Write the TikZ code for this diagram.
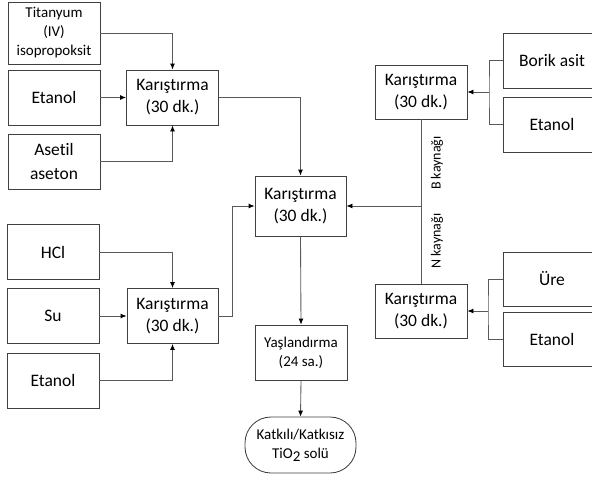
\documentclass[tikz,border=0pt]{standalone}
\usepackage{fontspec}
\setmainfont{Carlito}[Ligatures=NoCommon]
\usetikzlibrary{arrows,arrows.meta}
\tikzset{
  boxnode/.style = {align=center, inner sep=0pt, text centered, draw=black!75, line width=0.3mm},
  box_m/.style = {boxnode, minimum width=92pt, minimum height=55pt, font=\fontsize{17.5}{22}\selectfont},
  box_s/.style = {boxnode, minimum width=92pt, minimum height=55pt, font=\fontsize{15}{19}\selectfont},
  box_r/.style = {box_m, minimum width=98pt},
  sol_n/.style = {box_s, minimum width=111pt, minimum height=56pt, rounded corners=26pt},
  lbl/.style = {rotate=90, inner sep=0pt, font=\fontsize{14}{16}\selectfont},
  con/.style = {draw=black!65, line width=0.3mm},
  arr/.style = {con, -{Latex[black, length=6pt, width=5pt]}},
}
\begin{document}
\begin{tikzpicture}[x=1pt, y=-1pt]
  \useasboundingbox (0,0) rectangle (592,485);
  \clip (0,0) rectangle (592,485);

  % left, top
  \node [box_s, minimum height=62pt] (tit) at (54,33) {Titanyum\\(IV)\\isopropoksit};
  \node [box_m] (eta1) at (54,97.5) {Etanol};
  \node [box_m, font=\fontsize{17.5}{24}\selectfont] (ase) at (54,161.5) {Asetil\\aseton};
  \node [box_m] (mix1) at (172.5,97.5) {Karıştırma\\(30 dk.)};

  % left, bottom
  \node [box_m] (hcl) at (53,252) {HCl};
  \node [box_m] (su) at (53,316) {Su};
  \node [box_m] (eta4) at (53,380.5) {Etanol};
  \node [box_m, minimum width=91pt] (mix3) at (172.5,316) {Karıştırma\\(30 dk.)};

  % middle
  \node [box_m, minimum width=91pt, minimum height=60pt] (mixc) at (300.5,206) {Karıştırma\\(30 dk.)};
  \node [box_s] (yas) at (301,352.5) {Yaşlandırma\\(24 sa.)};
  \node [sol_n] (sol) at (300.5,445) {Katkılı/Katkısız\\TiO\raisebox{-0.45ex}{2} solü};

  % right
  \node [box_m, minimum height=54pt] (mixb) at (421,92) {Karıştırma\\(30 dk.)};
  \node [box_r] (bor) at (552,60.5) {Borik asit};
  \node [box_r] (eta2) at (552,124.5) {Etanol};
  \node [box_m, minimum height=54pt] (mixn) at (421,311) {Karıştırma\\(30 dk.)};
  \node [box_r, minimum height=54pt] (ure) at (552,279) {Üre};
  \node [box_r, minimum height=54pt] (eta3) at (552,339) {Etanol};

  \coordinate (bj) at (489,92);
  \coordinate (nj) at (488,311);
  \coordinate (cj) at (421,206);

  \draw [arr] (tit.east) -| (mix1.north);
  \draw [arr] (eta1) -- (mix1);
  \draw [arr] (ase.east) -| (mix1.south);
  \draw [arr] (mix1.east) -| (mixc.north);

  \draw [arr] (hcl.east) -| (mix3.north);
  \draw [arr] (su) -- (mix3);
  \draw [arr] (eta4.east) -| (mix3.south);
  \draw [arr] (mix3.east) -- ++(14,0) |- (mixc.west);

  \draw [con] (bor.west) -| (bj) |- (eta2.west);
  \draw [arr] (bj) -- (mixb.east);
  \draw [con] (ure.west) -| (nj) |- (eta3.west);
  \draw [arr] (nj) -- (mixn.east);

  \draw [con] (mixb.south) -- (mixn.north);
  \draw [arr] (cj) -- (mixc.east);
  \node [lbl] (bk) at (437,163) {B kaynağı};
  \node [lbl] (nk) at (437,241) {N kaynağı};

  \draw [arr] (mixc.south) -- (yas.north);
  \draw [arr] (yas.south) -- (sol.north);
\end{tikzpicture}
\end{document}
